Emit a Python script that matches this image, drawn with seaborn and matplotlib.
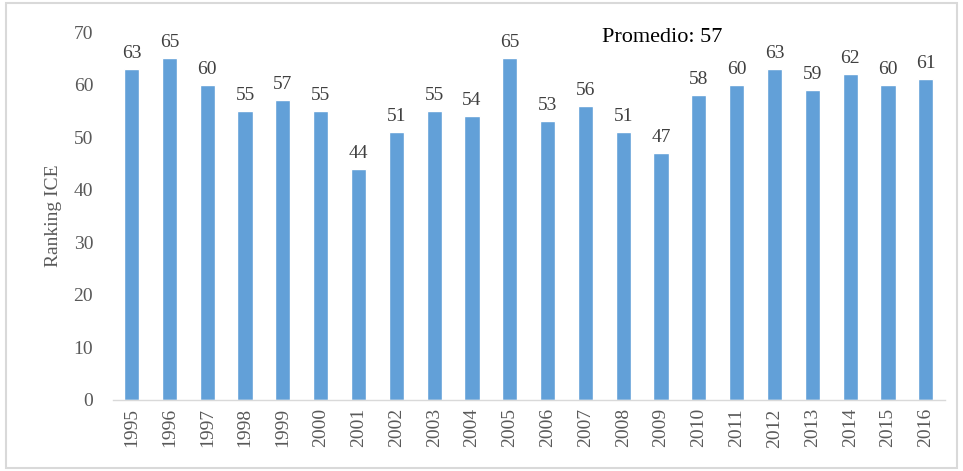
import pandas as pd
import matplotlib.pyplot as plt
import seaborn as sns

sns.set_theme(style="white")
plt.rcParams['font.family'] = ['Liberation Serif', 'DejaVu Serif']

years = [str(y) for y in range(1995, 2017)]
ranking = [63, 65, 60, 55, 57, 55, 44, 51, 55, 54, 65,
           53, 56, 51, 47, 58, 60, 63, 59, 62, 60, 61]
promedio = 57

df = pd.DataFrame({"year": years, "ranking": ranking})

fig = plt.figure(figsize=(9.63, 4.71), dpi=100)
ax = fig.add_axes([0.117, 0.151, 0.864, 0.781])

sns.barplot(data=df, x="year", y="ranking", color="#62A0D8", saturation=1,
            width=0.4, ax=ax)

for cont in ax.containers:
    ax.bar_label(cont, fmt="%d", padding=5, fontsize=14, color="#404040")

gray = "#595959"
ax.set_ylim(0, 70)
ax.set_yticks(range(0, 71, 10))
ax.set_xlim(-0.5, len(years) - 0.5)
ax.tick_params(axis="y", labelsize=14, labelcolor=gray, length=0, pad=14)
ax.tick_params(axis="x", labelsize=14, labelcolor=gray, length=0, rotation=90, pad=6)
ax.set_xlabel("")
ax.set_ylabel("Ranking ICE", fontsize=14, color=gray, labelpad=8)

for s in ["top", "right", "left"]:
    ax.spines[s].set_visible(False)
ax.spines["bottom"].set_color("#D9D9D9")
ax.spines["bottom"].set_linewidth(1)

ax.text(0.66, 0.985, f"Promedio: {promedio}", transform=ax.transAxes,
        fontsize=16, color="black", ha="center", va="center")

border = plt.Rectangle((0.006, 0.006), 0.988, 0.988, transform=fig.transFigure,
                       fill=False, edgecolor="#D9D9D9", linewidth=1.5)
fig.patches.append(border)

fig.savefig("out.png", dpi=100)
